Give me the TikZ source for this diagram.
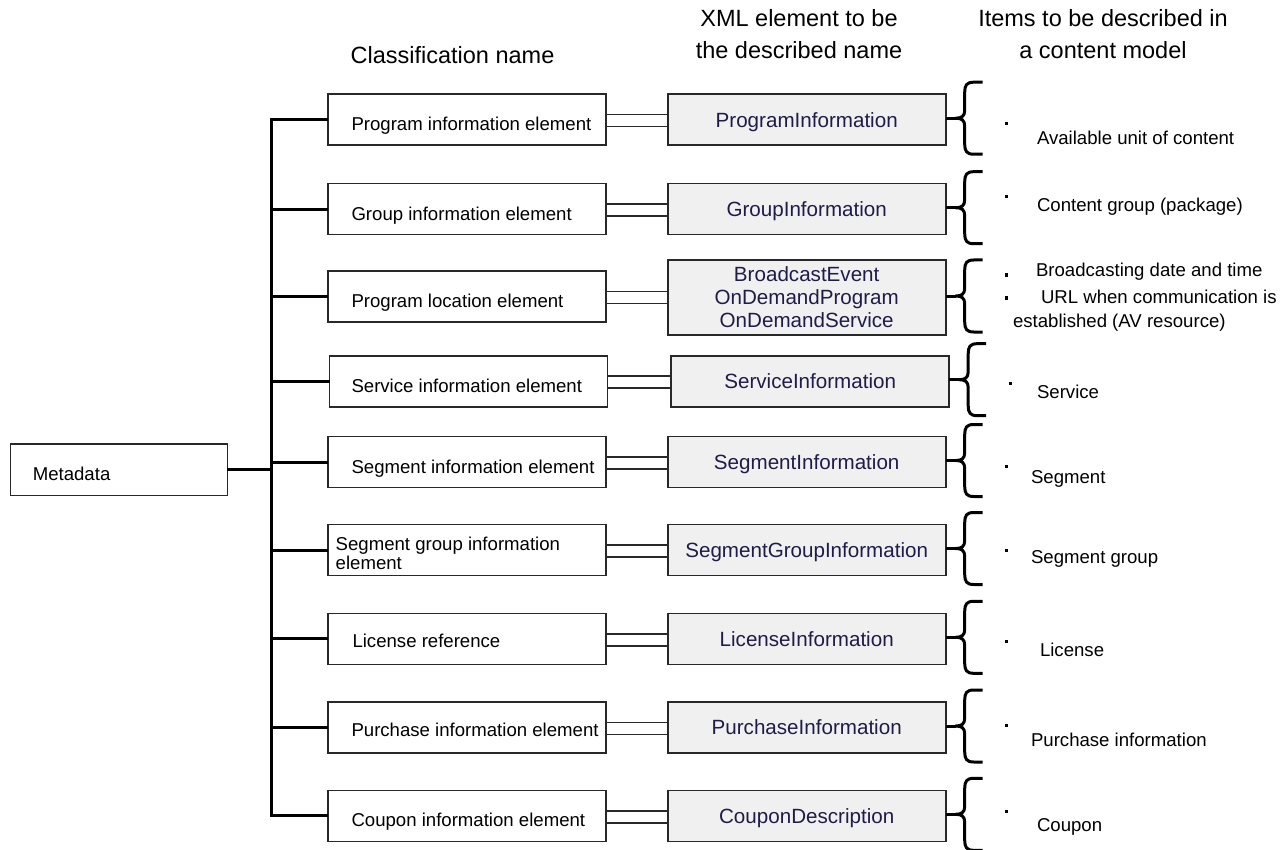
\documentclass[tikz,border=0pt]{standalone}
\usepackage{fontspec}
\setmainfont{Liberation Sans}
\definecolor{boxline}{RGB}{40,40,40}
\definecolor{xmlfill}{RGB}{240,240,240}
\definecolor{xmltext}{RGB}{32,28,72}
\begin{document}
\begin{tikzpicture}[x=1pt,y=-1pt,
  every node/.style={inner sep=0pt, outer sep=0pt},
  classbox/.style={draw=boxline, line width=1.6pt, fill=white,
    minimum width=278pt, minimum height=51pt},
  xmlbox/.style={draw=boxline, line width=1.6pt, fill=xmlfill,
    minimum width=278pt, minimum height=51pt, text=xmltext,
    font=\fontsize{20.6}{23}\selectfont, align=center},
  oneline/.style={text height=14.7pt, text depth=0pt},
  lbl/.style={anchor=base west, font=\fontsize{18.6}{18.6}\selectfont},
  head/.style={anchor=base, font=\fontsize{23.5}{32}\selectfont, align=center},
  trunk/.style={line width=3pt, black},
  twin/.style={line width=1.5pt, boxline},
  bracepath/.style={line width=3pt, black, line join=round},
  dotmark/.style={fill=black, minimum size=3pt, rectangle},
  curly/.pic={
    \draw[bracepath] (37,-36) -- (28,-36)
      .. controls (21,-36) and (19,-33) .. (19,-26) -- (19,-8)
      .. controls (19,-2) and (16,0) .. (10,0)
      .. controls (16,0) and (19,2) .. (19,8) -- (19,26)
      .. controls (19,33) and (21,36) .. (28,36) -- (37,36);
  }
]
\useasboundingbox (0,0) rectangle (1284,850);

% column headings (base anchor sits on the last line)
\node[head] (h1) at (452.5,64) {Classification name};
\node[head] (h2) at (799,59) {XML element to be\\the described name};
\node[head] (h3) at (1103,59) {Items to be described in\\a content model};

% root
\node[classbox, minimum width=217pt, minimum height=51.6pt] (meta) at (118.8,469.7) {};
\node[lbl] (tmeta) at ([xshift=22.5pt,yshift=-11pt]meta.west) {Metadata};

% classification boxes
\node[classbox] (c1) at (467,119.7) {};
\node[classbox] (c2) at (467,209.2) {};
\node[classbox] (c3) at (467,296.7) {};
\node[classbox] (c4) at (468.5,381.2) {};
\node[classbox] (c5) at (467,462) {};
\node[classbox] (c6) at (467,550) {};
\node[classbox] (c7) at (467,638.8) {};
\node[classbox] (c8) at (467,727.5) {};
\node[classbox] (c9) at (467,815.8) {};

\node[lbl] (t1) at ([xshift=23.5pt,yshift=-11pt]c1.west) {Program information element};
\node[lbl] (t2) at ([xshift=23.5pt,yshift=-11pt]c2.west) {Group information element};
\node[lbl] (t3) at ([xshift=23.5pt,yshift=-11pt]c3.west) {Program location element};
\node[lbl] (t4) at ([xshift=22pt,yshift=-11pt]c4.west) {Service information element};
\node[lbl] (t5) at ([xshift=23.5pt,yshift=-11pt]c5.west) {Segment information element};
\node[lbl, align=left, anchor=north west] (t6) at ([xshift=7.7pt,yshift=13pt]c6.west) {Segment group information\\element};
\node[lbl] (t7) at ([xshift=24.5pt,yshift=-9pt]c7.west) {License reference};
\node[lbl] (t8) at ([xshift=23.5pt,yshift=-9pt]c8.west) {Purchase information element};
\node[lbl] (t9) at ([xshift=23.5pt,yshift=-11pt]c9.west) {Coupon information element};

% XML element boxes
\node[xmlbox, oneline] (g1) at (806.7,119.7) {ProgramInformation};
\node[xmlbox, oneline] (g2) at (806.7,209.2) {GroupInformation};
\node[xmlbox, minimum height=75pt] (g3) at (806.7,297.5) {BroadcastEvent\\OnDemandProgram\\OnDemandService};
\node[xmlbox, oneline] (g4) at (810.2,381.2) {ServiceInformation};
\node[xmlbox, oneline] (g5) at (806.7,462) {SegmentInformation};
\node[xmlbox, oneline] (g6) at (806.7,550) {SegmentGroupInformation};
\node[xmlbox, oneline] (g7) at (806.7,638.8) {LicenseInformation};
\node[xmlbox, oneline] (g8) at (806.7,727.5) {PurchaseInformation};
\node[xmlbox, oneline] (g9) at (806.7,815.8) {CouponDescription};

% tree trunk and branches
\draw[trunk] (meta.east) -- (meta.east -| 271.5,0);
\draw[trunk, line cap=rect] (c1.west -| 271.5,0) -- (c9.west -| 271.5,0);
\foreach \i in {1,...,9}{
  \draw[trunk] (c\i.west -| 271.5,0) -- (c\i.west);
}

% paired links between classification and XML element boxes
\foreach \i in {1,...,9}{
  \draw[twin] ([yshift=5pt]c\i.east) -- ([yshift=5pt]c\i.east -| g\i.west);
  \draw[twin] ([yshift=-7pt]c\i.east) -- ([yshift=-7pt]c\i.east -| g\i.west);
}

% braces
\foreach \i in {1,...,9}{
  \coordinate (k\i) at ([xshift=10pt,yshift=1.5pt]g\i.east);
  \draw[bracepath] ([yshift=1.5pt]g\i.east) -- (k\i);
  \pic at ([yshift=1.5pt]g\i.east) {curly};
}

% described items
\node[dotmark] (d1) at (1006.7,123.3) {};
\node[lbl] (r1) at (1037,144.7) {Available unit of content};
\node[dotmark] (d2) at (1006.7,196.7) {};
\node[lbl] (r2) at (1037,211.7) {Content group (package)};
\node[dotmark, minimum height=4pt, minimum width=2.5pt] (d3a) at (1006.7,275) {};
\node[lbl] (r3a) at (1036,276.7) {Broadcasting date and time};
\node[dotmark, minimum height=4pt, minimum width=2.5pt] (d3b) at (1006.7,298.3) {};
\node[lbl] (r3b) at (1041,303.7) {URL when communication is};
\node[lbl] (r3c) at (1013,327.7) {established (AV resource)};
\node[dotmark] (d4) at (1010.7,383.3) {};
\node[lbl] (r4) at (1037,398.7) {Service};
\node[dotmark] (d5) at (1006.7,466.7) {};
\node[lbl] (r5) at (1031,483) {Segment};
\node[dotmark] (d6) at (1006.7,550) {};
\node[lbl] (r6) at (1031,563) {Segment group};
\node[dotmark] (d7) at (1006.7,641) {};
\node[lbl] (r7) at (1040,656.7) {License};
\node[dotmark] (d8) at (1006.7,725.7) {};
\node[lbl] (r8) at (1031,746.7) {Purchase information};
\node[dotmark] (d9) at (1006.7,811.7) {};
\node[lbl] (r9) at (1037,831.7) {Coupon};
\end{tikzpicture}
\end{document}
